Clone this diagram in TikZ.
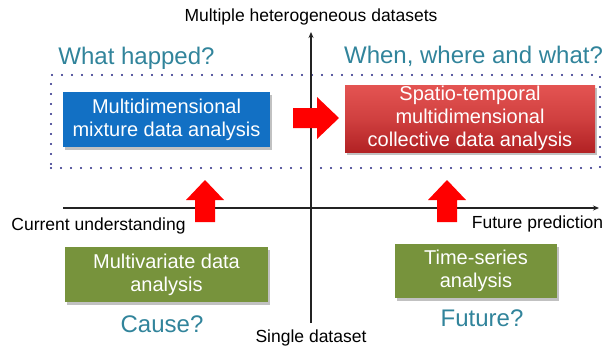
\documentclass[tikz,border=0pt]{standalone}
\usepackage{fontspec}
\setmainfont{Liberation Sans}
\usetikzlibrary{shadows,arrows.meta}
\definecolor{tealq}{RGB}{49,132,155}
\definecolor{boxblue}{RGB}{18,112,196}
\definecolor{boxgreen}{RGB}{119,147,60}
\definecolor{redtop}{RGB}{228,84,82}
\definecolor{redbot}{RGB}{178,34,36}
\definecolor{dotnavy}{RGB}{36,36,130}
\definecolor{axisgray}{RGB}{35,35,35}
\definecolor{fatred}{RGB}{255,0,0}
\begin{document}
\begin{tikzpicture}[x=1pt,y=-1pt,
  lbl/.style={font=\fontsize{17.5}{21}\selectfont, text=black, inner sep=0pt},
  question/.style={font=\fontsize{24}{28}\selectfont, text=tealq, inner sep=0pt},
  boxtext/.style={font=\fontsize{20}{23}\selectfont, text=white, align=center, inner sep=0pt,
    drop shadow={shadow xshift=2pt, shadow yshift=-2.5pt, opacity=0.35, fill=black!70}},
  bluebox/.style={boxtext, fill=boxblue},
  redbox/.style={boxtext, top color=redtop, bottom color=redbot, middle color=redtop!60!redbot},
  greenbox/.style={boxtext, fill=boxgreen},
  dotbox/.style={draw=dotnavy, line width=2.2pt, line cap=round, dash pattern=on 0pt off 10pt, inner sep=0pt},
  axis/.style={draw=axisgray, line width=1.1pt, -{Stealth[length=6pt,width=5pt]}},
  fatarrow/.style={fill=fatred},
  uparrow/.pic={\fill[fatarrow] (-10,42) -- (-10,20) -- (-19,20) -- (0,0) -- (19,20) -- (10,20) -- (10,42) -- cycle;}
]
\useasboundingbox (0,0) rectangle (607,349);

% dotted group
\node[dotbox, minimum width=549pt, minimum height=93pt] (grp) at (325.5,121.5) {};

% axes
\coordinate (vbot) at (311,323);
\coordinate (vtop) at (311,32);
\coordinate (hleft) at (63,208);
\coordinate (hright) at (599,208);
\draw[axis] (vbot) -- (vtop);
\draw[axis] (hleft) -- (hright);

% axis labels
\node[lbl] (ytop) at (311,17) {Multiple heterogeneous datasets};
\node[lbl] (ybot) at (311,338) {Single dataset};
\node[lbl] (xleft) at (98.5,226) {Current understanding};
\node[lbl] (xright) at (537.5,224) {Future prediction};

% questions
\node[question] (q1) at (136.5,58) {What happed?};
\node[question] (q2) at (473.5,56) {When, where and what?};
\node[question] (q3) at (162,324) {Cause?};
\node[question] (q4) at (482,318) {Future?};

% boxes
\node[bluebox, minimum width=207pt, minimum height=55pt] (mix) at (166.5,119.5)
  {Multidimensional\\mixture data analysis};
\node[redbox, minimum width=250pt, minimum height=67pt] (spat) at (470,118.5)
  {Spatio-temporal\\multidimensional\\collective data analysis};
\node[greenbox, minimum width=203pt, minimum height=55pt] (multi) at (166.5,274.5)
  {Multivariate data\\analysis};
\node[greenbox, minimum width=162pt, minimum height=54pt] (tser) at (476,271)
  {Time-series\\analysis};

% fat red arrows
\fill[fatarrow] (293,108) -- (317,108) -- (317,97) -- (339,118) -- (317,139) -- (317,128) -- (293,128) -- cycle;
\pic at (205,180) {uparrow};
\pic at (447,180) {uparrow};
\end{tikzpicture}
\end{document}
